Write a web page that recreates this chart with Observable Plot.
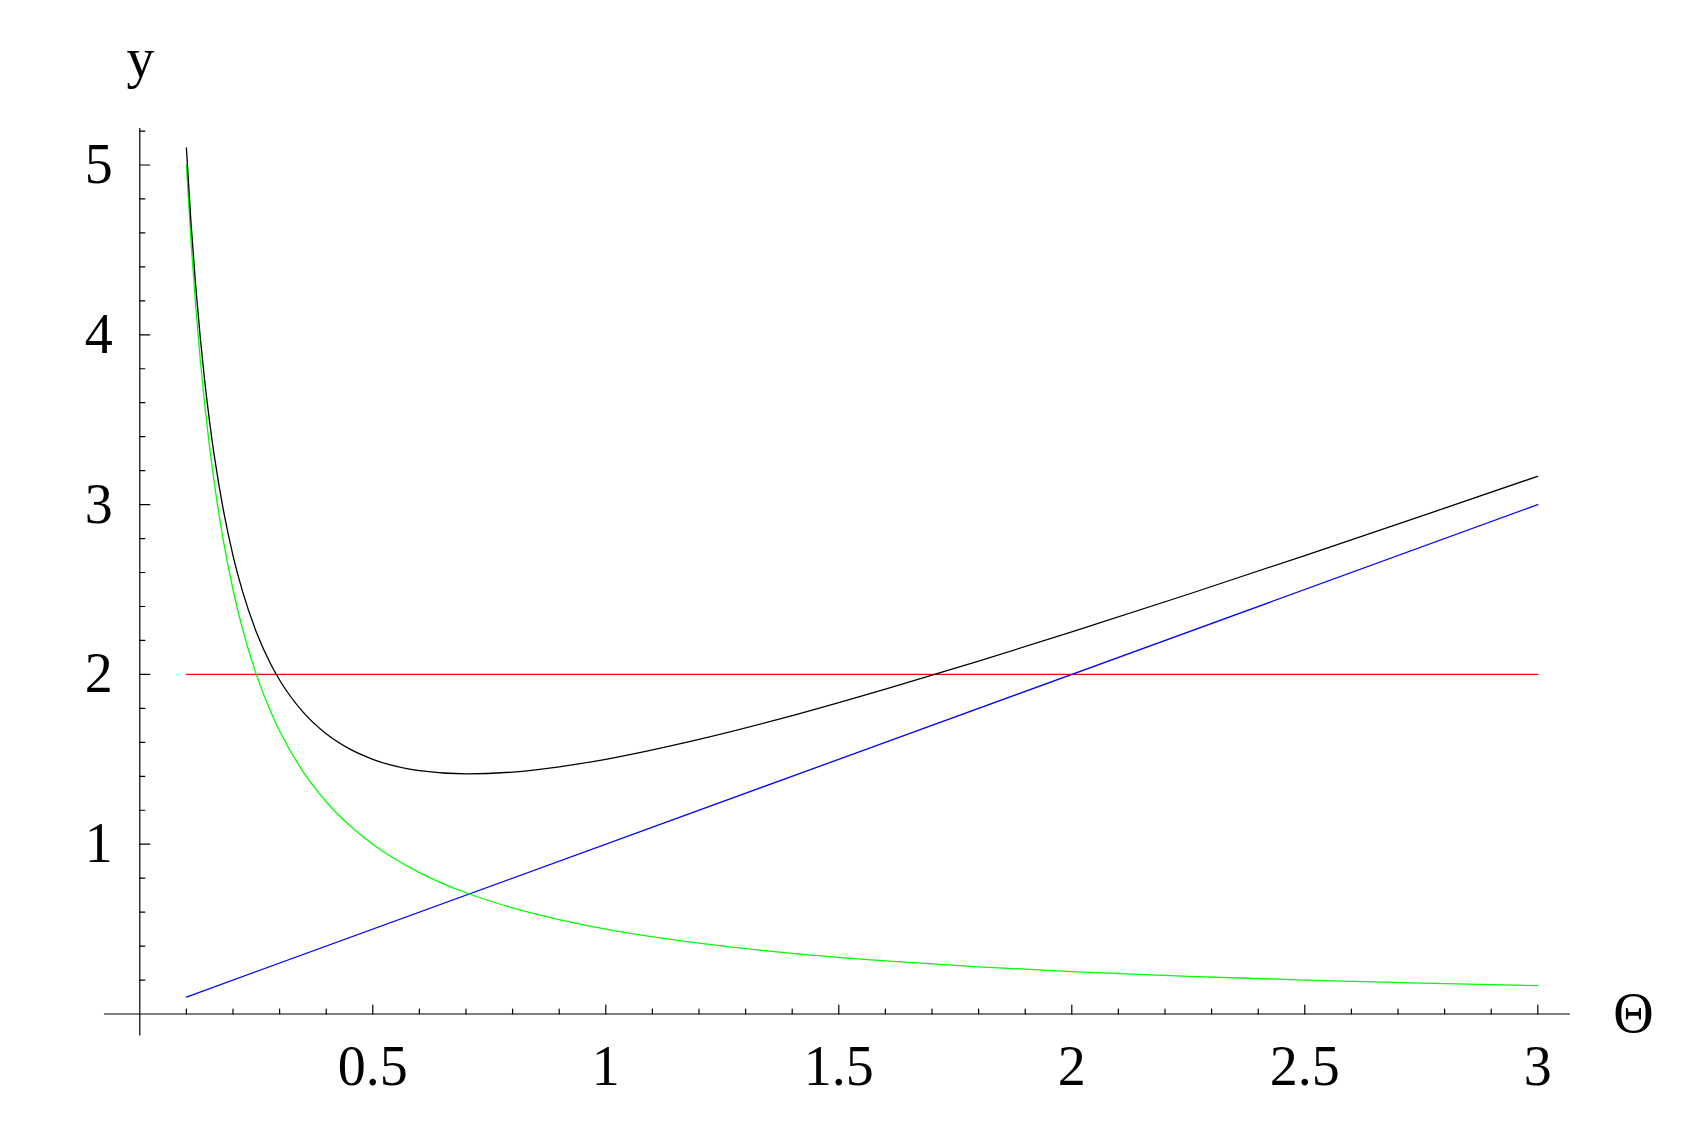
<!DOCTYPE html>
<html><head><meta charset="utf-8">
<script src="https://cdn.jsdelivr.net/npm/d3@7"></script>
<script src="https://cdn.jsdelivr.net/npm/@observablehq/plot@0.6"></script>
<style>html,body{margin:0;padding:0;background:#fff} svg{display:block}</style>
</head><body><div id="chart"></div>
<script>
// Θ sample positions and curve values
const theta = [0.1,0.11,0.12,0.13,0.14,0.15,0.16,0.18,0.2,0.22,0.25,0.28,0.3,0.35,0.4,0.45,0.5,0.6,0.7,0.8,0.9,1.0,1.2,1.4,1.6,1.8,2.0,2.25,2.5,2.75,3.0];
const greenY = [5.0,4.545,4.167,3.846,3.571,3.333,3.125,2.778,2.5,2.273,2.0,1.786,1.667,1.429,1.25,1.111,1.0,0.833,0.714,0.625,0.556,0.5,0.417,0.357,0.313,0.278,0.25,0.222,0.2,0.182,0.167];
const blackY = [5.1,4.655,4.287,3.976,3.711,3.483,3.285,2.958,2.7,2.493,2.25,2.066,1.967,1.779,1.65,1.561,1.5,1.433,1.414,1.425,1.456,1.5,1.617,1.757,1.913,2.078,2.25,2.472,2.7,2.932,3.167];
const blueX = [0.1,3.0], blueY = [0.1,3.0];
const redX = [0.1,3.0], redY = [2,2];

const xMajor = [0.5,1,1.5,2,2.5,3];
const xLabels = ["0.5","1","1.5","2","2.5","3"];
const xMinor = [0.1,0.2,0.3,0.4,0.6,0.7,0.8,0.9,1.1,1.2,1.3,1.4,1.6,1.7,1.8,1.9,2.1,2.2,2.3,2.4,2.6,2.7,2.8,2.9];
const yMajor = [1,2,3,4,5];
const yLabels = ["1","2","3","4","5"];
const yMinor = [0.2,0.4,0.6,0.8,1.2,1.4,1.6,1.8,2.2,2.4,2.6,2.8,3.2,3.4,3.6,3.8,4.2,4.4,4.6,4.8,5.2];
const xAxisExtent = [-0.076,3.07];
const yAxisExtent = [-0.13,5.215];
const xTitle = "Θ", yTitle = "y";

const pts = (xs, ys) => xs.map((x,i)=>({x, y: ys[i]}));
const tickShape = {draw(ctx, l){ ctx.moveTo(0,0); ctx.lineTo(0,-l); }};
const font = "'Liberation Serif','Times New Roman',serif";

const chart = Plot.plot({
  width: 1691, height: 1121,
  margin: 0,
  x: {domain: [0,3], range: [139.3,1537.3], axis: null},
  y: {domain: [0,5], range: [1013.5,164.5], axis: null},
  style: {fontFamily: font, background: "#fff", color: "#000"},
  marks: [
    // axes
    Plot.ruleY([0], {x1: xAxisExtent[0], x2: xAxisExtent[1], stroke: "black", strokeWidth: 1.2}),
    Plot.ruleX([0], {y1: yAxisExtent[0], y2: yAxisExtent[1], stroke: "black", strokeWidth: 1.2}),
    Plot.vector(xMajor, {x: d=>d, y: 0, length: 9, rotate: 0, anchor: "start", shape: tickShape, stroke: "black", strokeWidth: 1.2}),
    Plot.vector(xMinor, {x: d=>d, y: 0, length: 5, rotate: 0, anchor: "start", shape: tickShape, stroke: "black", strokeWidth: 1.2}),
    Plot.vector(yMajor, {x: 0, y: d=>d, length: 10, rotate: 90, anchor: "start", shape: tickShape, stroke: "black", strokeWidth: 1.2}),
    Plot.vector(yMinor, {x: 0, y: d=>d, length: 5, rotate: 90, anchor: "start", shape: tickShape, stroke: "black", strokeWidth: 1.2}),
    Plot.text(xMajor, {x: d=>d, y: 0, text: (d,i)=>xLabels[i], dy: 53, fontSize: 56, textAnchor: "middle", lineAnchor: "middle", fill: "black"}),
    Plot.text(yMajor, {x: 0, y: d=>d, text: (d,i)=>yLabels[i], dx: -27, fontSize: 56, textAnchor: "end", lineAnchor: "middle", fill: "black"}),
    Plot.text([yTitle], {frameAnchor: "top-left", dx: 140, dy: 59, text: d=>d, fontSize: 56, textAnchor: "middle", lineAnchor: "middle", fill: "black"}),
    Plot.text([xTitle], {frameAnchor: "top-left", dx: 1633, dy: 1013.5, text: d=>d, fontSize: 56, textAnchor: "middle", lineAnchor: "middle", fill: "black"}),
    // curves
    Plot.line(pts(redX, redY), {x: "x", y: "y", stroke: "#ff0000", strokeWidth: 1.3}),
    Plot.line(pts(blueX, blueY), {x: "x", y: "y", stroke: "#0000ff", strokeWidth: 1.3}),
    Plot.line(pts(theta, greenY), {x: "x", y: "y", stroke: "#00ff00", strokeWidth: 1.3, curve: "monotone-x"}),
    Plot.line(pts(theta, blackY), {x: "x", y: "y", stroke: "#000000", strokeWidth: 1.3, curve: "monotone-x"})
  ]
});
document.getElementById("chart").appendChild(chart);
</script>
</body></html>
